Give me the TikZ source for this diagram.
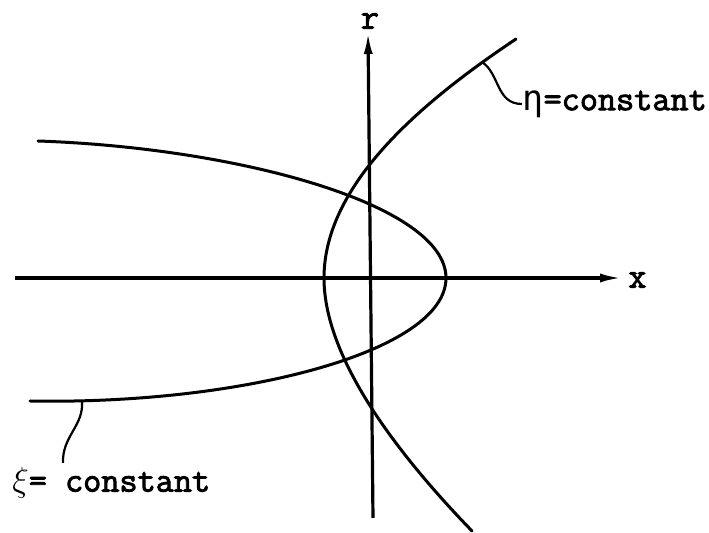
\documentclass[tikz,border=0pt]{standalone}
\usepackage{fontspec}
\setmonofont[FakeBold=2.5]{Latin Modern Mono}
\newfontfamily\etafont{DejaVu Sans Mono}
\usetikzlibrary{arrows.meta}
\tikzset{
  axis/.style={-{Latex[length=11pt,width=4.5pt]},line width=1.6pt},
  curve/.style={line width=1.5pt,line cap=round},
  lead/.style={line width=1.1pt},
  lbl/.style={font=\fontsize{17.6}{20}\selectfont\ttfamily,inner sep=0pt},
}
\begin{document}
\begin{tikzpicture}[x=0.5pt,y=-0.5pt]
\useasboundingbox (0,0) rectangle (709,533);

% axes
\coordinate (xstart) at (15,278);
\coordinate (xend) at (622,278);
\coordinate (rstart) at (373,518);
\coordinate (rend) at (368,32);
\draw[axis] (xstart) -- (xend);
\draw[axis] (rstart) -- (rend);
\node[lbl,anchor=west] (xlab) at (628,280) {x};
\node[lbl,anchor=south] (rlab) at (370,29) {r};

% xi = constant
\coordinate (xivtx) at (446,278);
\draw[curve] (38,141) .. controls (240,148) and (446,205) .. (xivtx)
  .. controls (446,352) and (240,405) .. (30,401);

% eta = constant
\coordinate (etavtx) at (324,278);
\draw[curve] (516,39) .. controls (431,96) and (324,180) .. (etavtx)
  .. controls (324,350) and (383,439) .. (472,531);

% labels
\coordinate (etatick) at (482,62);
\coordinate (xitick) at (82,401);
\node[lbl,anchor=west] (etalab) at (522,104) {{\etafont η}=constant};
\node[lbl,anchor=west] (xilab) at (12,483) {$\xi$= constant};
\draw[lead] (etatick) .. controls (500,74) and (496,104) .. (etalab.west);
\draw[lead] (xitick) .. controls (84,426) and (62,436) .. (63,463);
\end{tikzpicture}
\end{document}
